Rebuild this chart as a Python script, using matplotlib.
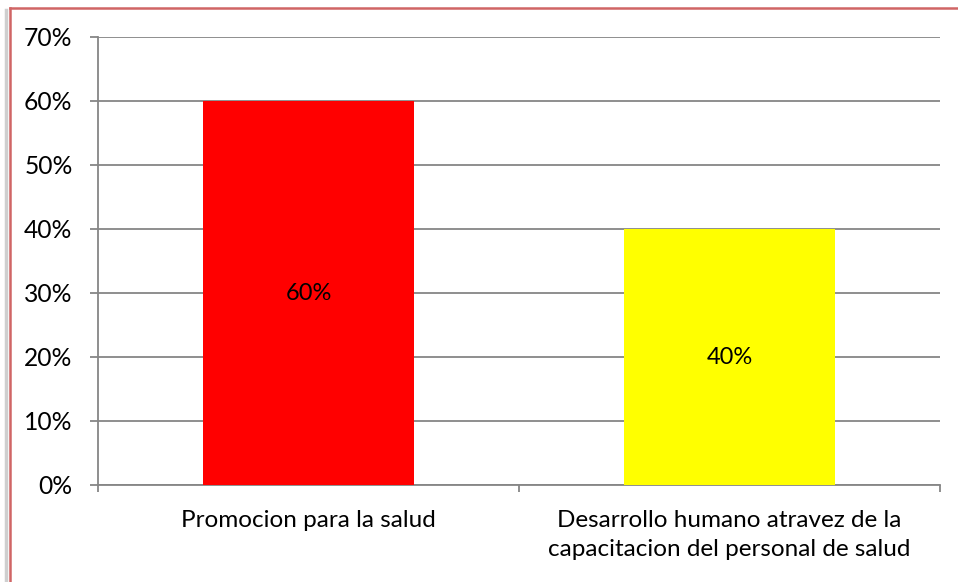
import matplotlib
matplotlib.use("Agg")
import matplotlib.pyplot as plt
from matplotlib.lines import Line2D
from matplotlib.ticker import FuncFormatter

# ------------ datos ------------
categorias = ["Promocion para la salud",
              "Desarrollo humano atravez de la\ncapacitacion del personal de salud"]
valores = [0.60, 0.40]
colores = ["#FF0000", "#FFFF00"]
etiquetas = ["60%", "40%"]

plt.rcParams["font.family"] = ["Lato", "DejaVu Sans"]

fig = plt.figure(figsize=(9.58, 5.82), dpi=100)
W, H = 958, 582
ax = fig.add_axes([98 / W, 1 - 485 / H, (940 - 98) / W, (485 - 37) / H])

x = range(len(categorias))
ax.bar(x, valores, width=0.5, color=colores, zorder=3)
for xi, v, t in zip(x, valores, etiquetas):
    ax.text(xi, v / 2, t, ha="center", va="center", fontsize=17, zorder=4)

ax.set_xlim(-0.5, 1.5)
ax.set_ylim(0, 0.70)
ax.set_yticks([i / 10 for i in range(8)])
ax.yaxis.set_major_formatter(FuncFormatter(lambda v, p: f"{v*100:.0f}%"))
ax.yaxis.grid(True, color="#868686", linewidth=1.3, zorder=0)

ax.set_xticks(list(x))
ax.set_xticklabels(categorias, fontsize=17.5, linespacing=1.45)
ax.set_xticks([-0.5, 0.5, 1.5], minor=True)
ax.tick_params(axis="x", which="major", length=0, pad=18)
ax.tick_params(axis="x", which="minor", length=5.2, width=1.3, color="#868686")
ax.tick_params(axis="y", length=5.8, width=1.3, color="#868686", pad=12.5, labelsize=17.7)

for s in ["top", "right"]:
    ax.spines[s].set_visible(False)
for s in ["left", "bottom"]:
    ax.spines[s].set_color("#868686")
    ax.spines[s].set_linewidth(1.3)

# marco del grafico con sombra
fig.add_artist(Line2D([6 / W, 6 / W], [0, 1 - 10 / H], transform=fig.transFigure,
                      color="#CFCFCF", linewidth=2.5))
fig.add_artist(Line2D([9.5 / W, 9.5 / W], [0, 1 - 7.5 / H], transform=fig.transFigure,
                      color="#D06565", linewidth=1.8))
fig.add_artist(Line2D([9.5 / W, 1], [1 - 7.5 / H, 1 - 7.5 / H], transform=fig.transFigure,
                      color="#D06565", linewidth=1.8))

fig.savefig("out.png", dpi=100)
